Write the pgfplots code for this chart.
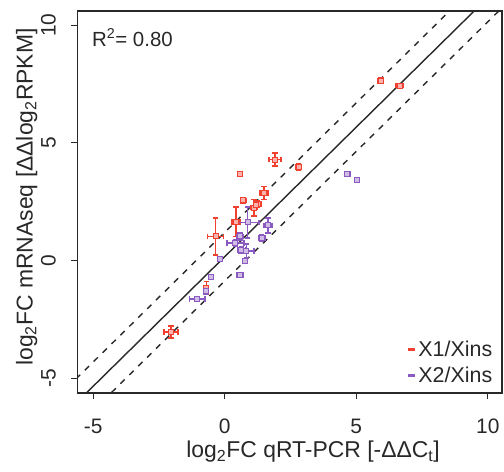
\documentclass[border=0pt]{standalone}
\usepackage{fontspec}
\setmainfont{Liberation Sans}
\usepackage{pgfplots}
\pgfplotsset{compat=1.18}

\definecolor{xred}{RGB}{240,64,48}
\definecolor{xpurple}{RGB}{138,90,192}
\definecolor{axgray}{RGB}{40,40,40}

% x y ex ey
\pgfplotstableread{
x y ex ey
5.93 7.64 0.10 0.12
6.65 7.43 0.15 0.05
1.91 4.29 0.23 0.28
2.81 3.98 0.10 0.12
0.57 3.69 0.08 0.08
0.70 2.56 0.10 0.10
1.49 2.87 0.15 0.28
1.10 2.25 0.12 0.35
1.25 2.40 0.15 0.15
1.20 2.35 0.10 0.10
0.42 1.65 0.15 0.62
-0.35 1.03 0.30 0.78
-0.70 -1.16 0.08 0.28
-2.05 -3.03 0.27 0.25
}\redtab

\pgfplotstableread{
x y ex ey
4.66 3.69 0.10 0.10
5.04 3.41 0.08 0.05
1.65 1.50 0.15 0.32
1.40 0.96 0.12 0.12
0.87 1.62 0.44 0.66
0.40 0.75 0.32 0.12
0.57 1.03 0.12 0.15
0.63 0.45 0.15 0.15
0.82 0.40 0.30 0.30
0.76 -0.03 0.08 0.08
0.57 -0.61 0.12 0.08
-0.19 0.05 0.08 0.08
-0.52 -0.70 0.08 0.08
-0.73 -1.30 0.08 0.12
-1.05 -1.63 0.29 0.10
}\purtab

\pgfplotsset{
  ebx/.style={#1, only marks, mark=none, forget plot,
    error bars/.cd, x dir=both, x explicit,
    error bar style={line width=1.6bp, #1},
    error mark options={rotate=90, mark size=2.8bp, line width=1.6bp, #1}},
  eby/.style={#1, only marks, mark=none, forget plot,
    error bars/.cd, y dir=both, y explicit,
    error bar style={line width=1.6bp, #1},
    error mark options={rotate=90, mark size=2.8bp, line width=1.6bp, #1}},
  pts/.style={#1, only marks, mark=square*, mark size=2.5bp, forget plot,
    mark options={draw=#1, fill=#1!40, line width=1bp}},
}

\begin{document}
\begin{tikzpicture}
\useasboundingbox (-77.5bp,-79bp) rectangle (426.5bp,393bp);
\begin{axis}[
  at={(0,0)}, anchor=south west,
  scale only axis, width=424.5bp, height=382bp,
  xmin=-5.6, xmax=10.54, ymin=-5.62, ymax=10.6,
  xtick={-5,0,5,10}, ytick={-5,0,5,10},
  axis line style={axgray, line width=1.1bp},
  every tick/.style={axgray, line width=1.1bp},
  tick align=outside, major tick length=6bp,
  xtick pos=bottom, ytick pos=left,
  /pgf/number format/assume math mode=true,
  tick label style={font=\fontsize{21}{24}\selectfont, text=axgray, inner sep=0pt},
  xticklabel style={anchor=north, yshift=-20bp},
  yticklabel style={rotate=90, anchor=south, yshift=15.5bp},
  xlabel={log\textsubscript{2}FC qRT-PCR [-ΔΔC\textsubscript{t}]},
  ylabel={log\textsubscript{2}FC mRNAseq [ΔΔlog\textsubscript{2}RPKM]},
  label style={font=\fontsize{23}{26}\selectfont, text=axgray, inner sep=0pt},
  xlabel style={at={(axis description cs:0.555,0)}, anchor=north, yshift=-48bp},
  ylabel style={at={(axis description cs:0,0.513)}, anchor=south, yshift=40bp},
  legend style={draw=none, fill=none, at={(axis description cs:0.981,0.018)},
    anchor=south east, font=\fontsize{21.5}{24}\selectfont, text=axgray,
    row sep=6bp, inner sep=0bp, nodes={inner sep=1.5bp}},
  legend cell align=left,
  legend image code/.code={\draw[#1, line width=3bp] (0.05cm,0cm) -- (0.3cm,0cm);},
  clip=true,
]
% fit line and band
\addplot[axgray, line width=1.4bp, forget plot] coordinates {(-6,-6.43) (11,12.27)};
\addplot[axgray, line width=1.4bp, dash pattern=on 6bp off 6.5bp, forget plot] coordinates {(-6,-5.40) (11,13.30)};
\addplot[axgray, line width=1.4bp, dash pattern=on 6bp off 6.5bp, forget plot] coordinates {(-6,-7.46) (11,11.24)};

\addplot[eby=xred] table[x=x, y=y, y error=ey] {\redtab};
\addplot[ebx=xred] table[x=x, y=y, x error=ex] {\redtab};
\addplot[pts=xred] table[x=x, y=y] {\redtab};

\addplot[eby=xpurple] table[x=x, y=y, y error=ey] {\purtab};
\addplot[ebx=xpurple] table[x=x, y=y, x error=ex] {\purtab};
\addplot[pts=xpurple] table[x=x, y=y] {\purtab};

\addlegendimage{xred}
\addlegendentry{X1/Xins}
\addlegendimage{xpurple}
\addlegendentry{X2/Xins}

\node[anchor=base west, font=\fontsize{20.5}{23}\selectfont, text=axgray, inner sep=0pt]
  at ([xshift=14.5bp, yshift=-35.5bp]rel axis cs:0,1) {R\textsuperscript{2}= 0.80};
\end{axis}
\end{tikzpicture}
\end{document}
